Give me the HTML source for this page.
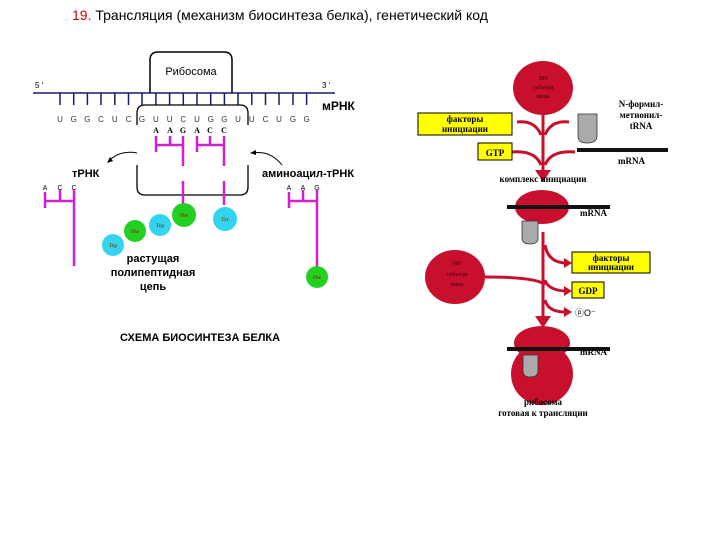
<!DOCTYPE html>
<html><head><meta charset="utf-8"><style>
body{margin:0;background:#fff;}
svg{display:block;font-family:"Liberation Sans",sans-serif;}
.s{font-family:"Liberation Serif",serif;font-weight:bold;}
</style></head><body>
<svg width="720" height="540" viewBox="0 0 720 540" xmlns="http://www.w3.org/2000/svg">
<text x="72" y="20" font-size="14"><tspan fill="#d00000">19.</tspan> Трансляция (механизм биосинтеза белка), генетический код</text>
<path d="M150,93 L150,60 Q150,52 158,52 L224,52 Q232,52 232,60 L232,93" fill="none" stroke="#000" stroke-width="1.5"/>
<text x="191" y="75" font-size="11" text-anchor="middle">Рибосома</text>
<text x="35" y="88" font-size="8">5 '</text><text x="322" y="88" font-size="8">3 '</text>
<line x1="33" y1="93" x2="335" y2="93" stroke="#1a1a6e" stroke-width="1.5"/>
<g stroke="#1a1a6e" stroke-width="1.5">
<line x1="60" y1="93" x2="60" y2="105"/><line x1="73.7" y1="93" x2="73.7" y2="105"/><line x1="87.4" y1="93" x2="87.4" y2="105"/><line x1="101" y1="93" x2="101" y2="105"/><line x1="114.8" y1="93" x2="114.8" y2="105"/><line x1="128.5" y1="93" x2="128.5" y2="105"/><line x1="142" y1="93" x2="142" y2="105"/><line x1="155.9" y1="93" x2="155.9" y2="105"/><line x1="169.6" y1="93" x2="169.6" y2="105"/><line x1="183.3" y1="93" x2="183.3" y2="105"/><line x1="197" y1="93" x2="197" y2="105"/><line x1="210.7" y1="93" x2="210.7" y2="105"/><line x1="224.4" y1="93" x2="224.4" y2="105"/><line x1="238" y1="93" x2="238" y2="105"/><line x1="251.8" y1="93" x2="251.8" y2="105"/><line x1="265.5" y1="93" x2="265.5" y2="105"/><line x1="279" y1="93" x2="279" y2="105"/><line x1="293" y1="93" x2="293" y2="105"/><line x1="306.6" y1="93" x2="306.6" y2="105"/>
</g>
<text y="122" font-size="8" fill="#333" text-anchor="middle"><tspan x="60">U</tspan><tspan x="73.7">G</tspan><tspan x="87.4">G</tspan><tspan x="101">C</tspan><tspan x="114.8">U</tspan><tspan x="128.5">C</tspan><tspan x="142">G</tspan><tspan x="155.9">U</tspan><tspan x="169.6">U</tspan><tspan x="183.3">C</tspan><tspan x="197">U</tspan><tspan x="210.7">G</tspan><tspan x="224.4">G</tspan><tspan x="238">U</tspan><tspan x="251.8">U</tspan><tspan x="265.5">C</tspan><tspan x="279">U</tspan><tspan x="293">G</tspan><tspan x="306.6">G</tspan></text>
<text x="322" y="110" font-size="12" font-weight="bold">мРНК</text>
<path d="M137,125 L137,113 Q137,105 145,105 L240,105 Q248,105 248,113 L248,125 M137,165 L137,187 Q137,195 145,195 L240,195 Q248,195 248,187 L248,165" fill="none" stroke="#000" stroke-width="1.3"/>
<text y="133" font-size="8" class="s" text-anchor="middle"><tspan x="156">A</tspan><tspan x="170">A</tspan><tspan x="183">G</tspan><tspan x="197">A</tspan><tspan x="210">C</tspan><tspan x="224">C</tspan></text>
<g stroke="#d020d0" stroke-width="2.5" fill="none">
<path d="M156,136 V152 M156,145 H183 M183,136 V166 M170,136 V145"/>
<path d="M197,136 V152 M197,145 H224 M224,136 V166 M210,136 V145"/>
<path d="M183,181 V205 M224,181 V205"/>
<path d="M45,192 V208 M45,201 H74 M74,190 V266 M60,190 V201"/>
<path d="M289,192 V208 M289,201 H317 M317,190 V268 M303,190 V201"/>
</g>
<g font-size="5" class="s" text-anchor="middle" fill="#7a4000">
<circle cx="113" cy="245" r="11" fill="#33d4f0"/><text x="113" y="247">Trp</text>
<circle cx="135" cy="231" r="11" fill="#22d022"/><text x="135" y="233">Phe</text>
<circle cx="160" cy="225" r="11" fill="#33d4f0"/><text x="160" y="227">Trp</text>
<circle cx="184" cy="215" r="12" fill="#22d022"/><text x="184" y="217">Phe</text>
<circle cx="225" cy="219" r="12" fill="#33d4f0"/><text x="225" y="221">Tyr</text>
<circle cx="317" cy="277" r="11" fill="#22d022"/><text x="317" y="279">Phe</text>
</g>
<text x="153" y="262" font-size="11" font-weight="bold" text-anchor="middle">растущая</text>
<text x="153" y="276" font-size="11" font-weight="bold" text-anchor="middle">полипептидная</text>
<text x="153" y="290" font-size="11" font-weight="bold" text-anchor="middle">цепь</text>
<path d="M137,153 Q120,150 110,160" fill="none" stroke="#000" stroke-width="1"/>
<path d="M107,163 l6,-2 l-3,-4z" fill="#000"/>
<path d="M282,165 Q270,150 253,153" fill="none" stroke="#000" stroke-width="1"/>
<path d="M250,153 l6,-3 l0,5z" fill="#000"/>
<text x="72" y="177" font-size="11" font-weight="bold">тРНК</text>
<text x="262" y="177" font-size="11" font-weight="bold">аминоацил-тРНК</text>
<text y="190" font-size="7" text-anchor="middle"><tspan x="45">A</tspan><tspan x="60">C</tspan><tspan x="74">C</tspan><tspan x="289">A</tspan><tspan x="303">A</tspan><tspan x="317">G</tspan></text>
<text x="120" y="341" font-size="11" font-weight="bold">СХЕМА БИОСИНТЕЗА БЕЛКА</text>
<g fill="#c8102e">
<ellipse cx="543" cy="88" rx="30" ry="27"/>
<ellipse cx="455" cy="277" rx="30" ry="27"/>
<ellipse cx="542" cy="207" rx="27" ry="17"/>
<circle cx="542" cy="374" r="31"/>
<ellipse cx="542" cy="343" rx="28" ry="17"/>
</g>
<g font-size="6" class="s" text-anchor="middle" fill="#6a0014">
<text x="543" y="80">30S</text><text x="543" y="89">субъеди</text><text x="543" y="98">ница</text>
<text x="457" y="265">50S</text><text x="457" y="276">субъеди</text><text x="457" y="286">ница</text>
</g>
<g stroke="#c8102e" stroke-width="3" fill="none">
<path d="M543,112 V172"/>
<path d="M517,122 Q535,120 541,135 M569,122 Q551,120 545,135"/>
<path d="M512,152 Q535,150 541,165 M575,152 Q551,150 545,165"/>
<path d="M543,232 V318"/>
<path d="M545,245 Q548,262 565,263 M485,277 Q538,277 545,285 M545,280 Q548,290 565,291 M545,300 Q548,312 565,312"/>
</g>
<g fill="#c8102e">
<path d="M535,170 L551,170 L543,182z"/>
<path d="M535,316 L551,316 L543,328z"/>
<path d="M564,258 L572,263 L564,268z M564,286 L572,291 L564,296z M564,307 L572,312 L564,317z"/>
</g>
<g fill="#ffff00" stroke="#000" stroke-width="1">
<rect x="418" y="113" width="94" height="22"/>
<rect x="478" y="143" width="34" height="17"/>
<rect x="572" y="252" width="78" height="21"/>
<rect x="572" y="282" width="32" height="16"/>
</g>
<g class="s" font-size="9" text-anchor="middle">
<text x="465" y="122">факторы</text><text x="465" y="132">инициации</text>
<text x="495" y="156">GTP</text>
<text x="611" y="261">факторы</text><text x="611" y="270">инициации</text>
<text x="588" y="294">GDP</text>
<text x="641" y="107">N-формил-</text><text x="641" y="118">метионил-</text><text x="641" y="129">tRNA</text>
<text x="543" y="182">комплекс инициации</text>
<text x="543" y="405">рибосома</text><text x="543" y="416">готовая к трансляции</text>
</g>
<g class="s" font-size="9">
<text x="618" y="164">mRNA</text><text x="580" y="216">mRNA</text><text x="580" y="355">mRNA</text>
</g>
<text x="575" y="316" font-size="9">ⓟO⁻</text>
<g stroke="#111" stroke-width="4">
<line x1="577" y1="150" x2="668" y2="150"/>
<line x1="507" y1="207" x2="610" y2="207"/>
<line x1="507" y1="349" x2="610" y2="349"/>
</g>
<g fill="#aaa" stroke="#333" stroke-width="0.8">
<path d="M578,114 H597 V136 Q597,143 587,143 Q578,143 578,136z"/>
<path d="M522,221 H538 V238 Q538,244 530,244 Q522,244 522,238z"/>
<path d="M523,355 H538 V371 Q538,377 530,377 Q523,377 523,371z"/>
</g>
</svg>
</body></html>
